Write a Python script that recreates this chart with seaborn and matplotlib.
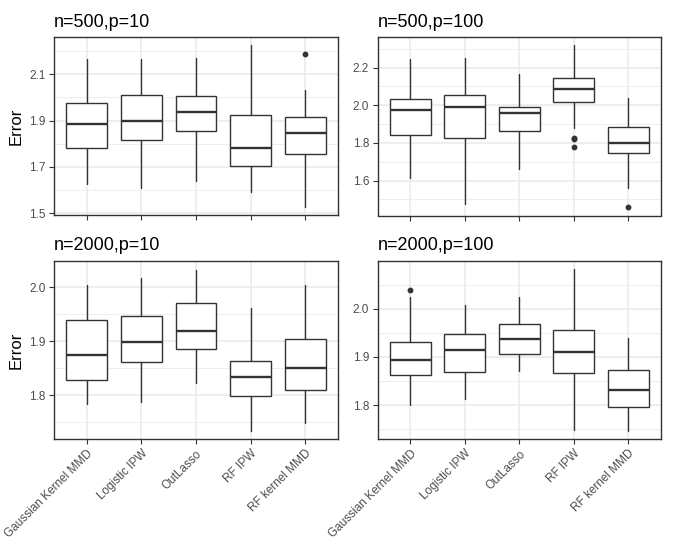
import matplotlib
matplotlib.use("Agg")
import matplotlib.pyplot as plt
import seaborn as sns

methods = ["Gaussian Kernel MMD", "Logistic IPW", "OutLasso", "RF IPW", "RF kernel MMD"]
panel_titles = ["n=500,p=10", "n=500,p=100", "n=2000,p=10", "n=2000,p=100"]

# five-number summaries (per panel, per method)
p1_lo = [1.624, 1.610, 1.639, 1.593, 1.527]
p1_q1 = [1.780, 1.816, 1.856, 1.704, 1.754]
p1_med = [1.883, 1.899, 1.937, 1.780, 1.846]
p1_q3 = [1.974, 2.011, 2.004, 1.923, 1.917]
p1_hi = [2.167, 2.164, 2.169, 2.226, 2.033]
p1_out = [[], [], [], [], [2.186]]

p2_lo = [1.614, 1.478, 1.661, 1.878, 1.559]
p2_q1 = [1.843, 1.824, 1.861, 2.018, 1.746]
p2_med = [1.974, 1.988, 1.959, 2.088, 1.799]
p2_q3 = [2.032, 2.055, 1.991, 2.145, 1.882]
p2_hi = [2.247, 2.251, 2.164, 2.319, 2.037]
p2_out = [[], [], [], [1.827, 1.823, 1.776], [1.458]]

p3_lo = [1.784, 1.787, 1.822, 1.733, 1.749]
p3_q1 = [1.828, 1.861, 1.885, 1.798, 1.809]
p3_med = [1.874, 1.898, 1.920, 1.834, 1.851]
p3_q3 = [1.940, 1.947, 1.972, 1.864, 1.904]
p3_hi = [2.005, 2.017, 2.033, 1.961, 2.005]
p3_out = [[], [], [], [], []]

p4_lo = [1.800, 1.813, 1.871, 1.749, 1.746]
p4_q1 = [1.862, 1.869, 1.906, 1.866, 1.796]
p4_med = [1.894, 1.914, 1.937, 1.911, 1.831]
p4_q3 = [1.930, 1.947, 1.969, 1.956, 1.872]
p4_hi = [2.025, 2.007, 2.025, 2.083, 1.939]
p4_out = [[2.038], [], [], [], []]

p1_ticks = [1.5, 1.7, 1.9, 2.1]
p2_ticks = [1.6, 1.8, 2.0, 2.2]
p3_ticks = [1.8, 1.9, 2.0]
p4_ticks = [1.8, 1.9, 2.0]
p1_minor = [1.6, 1.8, 2.0, 2.2]
p2_minor = [1.5, 1.7, 1.9, 2.1, 2.3]
p3_minor = [1.75, 1.85, 1.95, 2.05]
p4_minor = [1.75, 1.85, 1.95, 2.05]

panels = [
    (p1_lo, p1_q1, p1_med, p1_q3, p1_hi, p1_out, p1_ticks, p1_minor),
    (p2_lo, p2_q1, p2_med, p2_q3, p2_hi, p2_out, p2_ticks, p2_minor),
    (p3_lo, p3_q1, p3_med, p3_q3, p3_hi, p3_out, p3_ticks, p3_minor),
    (p4_lo, p4_q1, p4_med, p4_q3, p4_hi, p4_out, p4_ticks, p4_minor),
]

sns.set_theme(style="white")
plt.rcParams["font.family"] = ["Liberation Sans", "DejaVu Sans"]

W, H = 674, 552
fig = plt.figure(figsize=(W / 100, H / 100), dpi=100)
fig.patch.set_facecolor("white")

rects = [
    (54, 37, 338, 215),
    (377.5, 37, 661, 215.5),
    (54, 260.5, 338, 439.3),
    (377.5, 260.5, 661, 439.3),
]

dark = "#333333"
grey30 = "#4D4D4D"
gridc = "#EBEBEB"

for i, (rect, title, pdata) in enumerate(zip(rects, panel_titles, panels)):
    l, t, r, b = rect
    ax = fig.add_axes([l / W, 1 - b / H, (r - l) / W, (b - t) / H])
    lo, q1, med, q3, hi, out, ticks, minor = pdata
    stats = []
    for k, m in enumerate(methods):
        stats.append(dict(label=m, whislo=lo[k], q1=q1[k], med=med[k], q3=q3[k],
                          whishi=hi[k], fliers=out[k]))
    ax.bxp(stats, positions=list(range(len(methods))), widths=0.75,
           showcaps=False, patch_artist=True,
           boxprops=dict(facecolor="white", edgecolor=dark, linewidth=1.0),
           whiskerprops=dict(color=dark, linewidth=1.0),
           medianprops=dict(color=dark, linewidth=1.7, solid_capstyle="butt"),
           flierprops=dict(marker="o", markerfacecolor=dark, markeredgecolor=dark,
                           markersize=3.2, linestyle="none"),
           zorder=3)
    allv = lo + hi + [v for o in out for v in o]
    vmin, vmax = min(allv), max(allv)
    pad = 0.05 * (vmax - vmin)
    ax.set_ylim(vmin - pad, vmax + pad)
    ax.set_xlim(-0.6, len(methods) - 0.4)

    ax.set_yticks(ticks)
    ax.set_yticklabels([f"{v:.1f}" for v in ticks])
    ax.set_yticks(minor, minor=True)
    ax.set_xticks(range(len(methods)))
    if i >= 2:
        ax.set_xticklabels(methods, rotation=45, ha="right", va="top",
                           rotation_mode="anchor", fontsize=8.5)
    else:
        ax.set_xticklabels([])

    ax.set_axisbelow(True)
    ax.grid(True, which="major", color=gridc, linewidth=1.2)
    ax.grid(True, which="minor", axis="y", color=gridc, linewidth=0.6)
    ax.tick_params(axis="both", which="major", length=3.5, width=0.8, color=dark,
                   labelcolor=grey30, pad=2.5, left=True, bottom=True)
    ax.tick_params(axis="y", which="major", labelsize=8.5)
    ax.tick_params(axis="both", which="minor", length=0)
    for s in ax.spines.values():
        s.set_color(dark)
        s.set_linewidth(1.0)
    ax.set_facecolor("white")
    ax.set_title(title, loc="left", fontsize=13, pad=7.5, color="black")
    if i % 2 == 0:
        ax.set_ylabel("Error", fontsize=12, color="black", labelpad=4)
    ax.set_xlabel("")

fig.savefig("out.png", dpi=100)
